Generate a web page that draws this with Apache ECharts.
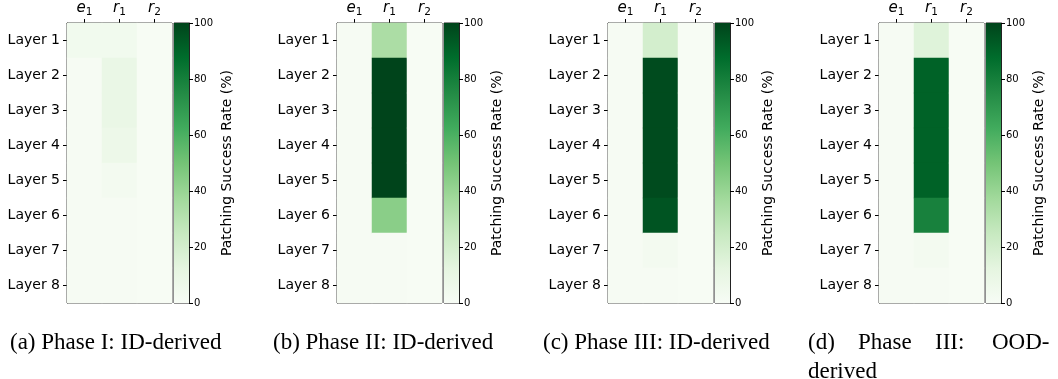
<!DOCTYPE html>
<html>
<head>
<meta charset="utf-8">
<script src="https://cdn.jsdelivr.net/npm/echarts@6/dist/echarts.min.js"></script>
<style>
  html, body { margin: 0; padding: 0; background: #fff; }
  #chart { width: 1058px; height: 379px; }
</style>
</head>
<body>
<div id="chart"></div>
<script>
// categories
const columns = ["e1", "r1", "r2"];
const layers = ["Layer 1", "Layer 2", "Layer 3", "Layer 4", "Layer 5", "Layer 6", "Layer 7", "Layer 8"];
const cbTicks = [0, 20, 40, 60, 80, 100];

// patching success rate (%) per column, layers 1..8
// (a) Phase I: ID-derived
const aE1 = [4, 1, 1, 1, 1, 1, 1, 1];
const aR1 = [4, 9, 9, 7, 3, 1, 1, 1];
const aR2 = [0.3, 0.3, 0.3, 0.3, 0.3, 0.3, 0.3, 0.3];
// (b) Phase II: ID-derived
const bE1 = [1, 1, 1, 1, 1, 1, 1, 1];
const bR1 = [34, 100, 100, 100, 100, 44, 1, 1];
const bR2 = [0.3, 0.3, 0.3, 0.3, 0.3, 0.3, 0.3, 0.3];
// (c) Phase III: ID-derived
const cE1 = [1, 1, 1, 1, 1, 1, 1, 1];
const cR1 = [20, 98, 98, 98, 98, 95, 3, 1];
const cR2 = [0.3, 0.3, 0.3, 0.3, 0.3, 0.3, 0.3, 0.3];
// (d) Phase III: OOD-derived
const dE1 = [1, 1, 1, 1, 1, 1, 1, 1];
const dR1 = [15, 91, 91, 91, 91, 79, 3, 1];
const dR2 = [0.3, 0.3, 0.3, 0.3, 0.3, 0.3, 0.3, 0.3];

const captions = ["(a) Phase I: ID-derived", "(b) Phase II: ID-derived", "(c) Phase III: ID-derived"];
const captionD = ["(d)", "Phase", "III:", "OOD-"];

const greens = ["#f7fcf5", "#e5f5e0", "#c7e9c0", "#a1d99b", "#74c476", "#41ab5d", "#238b45", "#006d2c", "#00441b"];

const panels = [
  [aE1, aR1, aR2],
  [bE1, bR1, bR2],
  [cE1, cR1, cR2],
  [dE1, dR1, dR2],
];

const heatLeft = [67, 337, 608, 879];
const gridTop = 23, gridH = 280, gridW = 105;
const font = "DejaVu Sans";

const chart = echarts.init(document.getElementById("chart"));

let grid = [], xAxis = [], yAxis = [], series = [];

panels.forEach((cols, p) => {
  // heatmap
  grid.push({ left: heatLeft[p], top: gridTop, width: gridW, height: gridH, show: true, borderColor: "#222", borderWidth: 1 });
  // colorbar
  grid.push({ left: heatLeft[p] + 107, top: gridTop, width: 15, height: gridH, show: true, borderColor: "#222", borderWidth: 1 });

  const gh = p * 2, gc = p * 2 + 1;
  xAxis.push({
    type: "category", gridIndex: gh, position: "top", data: columns,
    axisLine: { show: true, lineStyle: { color: "#222", width: 1 } },
    axisTick: { show: true, alignWithLabel: true, length: 4, lineStyle: { color: "#000" } },
    axisLabel: {
      interval: 0, margin: 5,
      formatter: v => "{i|" + v[0] + "}{s|" + v.slice(1) + "}",
      rich: {
        i: { fontFamily: font, fontStyle: "italic", fontSize: 15, color: "#000" },
        s: { fontFamily: font, fontSize: 10.5, color: "#000", padding: [8, 0, 0, 0] },
      },
    },
  });
  yAxis.push({
    type: "category", gridIndex: gh, data: layers, inverse: true,
    axisLine: { show: true, lineStyle: { color: "#222", width: 1 } },
    axisTick: { show: true, alignWithLabel: true, length: 4, lineStyle: { color: "#000" } },
    axisLabel: { interval: 0, fontFamily: font, fontSize: 14, color: "#000", margin: 7 },
  });
  xAxis.push({ type: "category", gridIndex: gc, data: [""], show: false });
  yAxis.push({
    type: "value", gridIndex: gc, min: 0, max: 100, interval: 20, position: "right",
    splitLine: { show: false },
    axisLine: { show: true, lineStyle: { color: "#222", width: 1 } },
    axisTick: { show: true, length: 4, lineStyle: { color: "#000" } },
    axisLabel: { fontFamily: font, fontSize: 10, color: "#000", margin: 5 },
    name: "Patching Success Rate (%)", nameLocation: "middle", nameRotate: 90, nameGap: 31,
    nameTextStyle: { fontFamily: font, fontSize: 14, color: "#000" },
  });

  const data = [];
  cols.forEach((vals, x) => vals.forEach((v, y) => data.push([x, y, v])));
  series.push({
    type: "heatmap", xAxisIndex: gh, yAxisIndex: gh, data: data,
    itemStyle: { borderWidth: 0 }, emphasis: { disabled: true },
  });
});

panels.forEach((cols, p) => {
  series.push({
    type: "bar", xAxisIndex: p * 2 + 1, yAxisIndex: p * 2 + 1, data: [cbTicks[cbTicks.length - 1]],
    barWidth: "100%", silent: true,
    itemStyle: {
      color: new echarts.graphic.LinearGradient(0, 1, 0, 0,
        greens.map((c, i) => ({ offset: i / (greens.length - 1), color: c }))),
    },
  });
});

const capLeft = [10, 273, 543];
const graphic = captions.map((t, i) => ({
  type: "text", left: capLeft[i], top: 331,
  style: { text: t, font: "23px 'Liberation Serif'", fill: "#000" },
}));
const dLeft = [808, 858, 935, 992];
captionD.forEach((t, i) => graphic.push({
  type: "text", left: dLeft[i], top: 331,
  style: { text: t, font: "23px 'Liberation Serif'", fill: "#000" },
}));
graphic.push({
  type: "text", left: 808, top: 360,
  style: { text: "derived", font: "23px 'Liberation Serif'", fill: "#000" },
});

chart.setOption({
  animation: false,
  grid: grid,
  xAxis: xAxis,
  yAxis: yAxis,
  visualMap: {
    type: "continuous", show: false, min: 0, max: 100, seriesIndex: [0, 1, 2, 3],
    inRange: { color: greens },
  },
  series: series,
  graphic: graphic,
});
</script>
</body>
</html>
